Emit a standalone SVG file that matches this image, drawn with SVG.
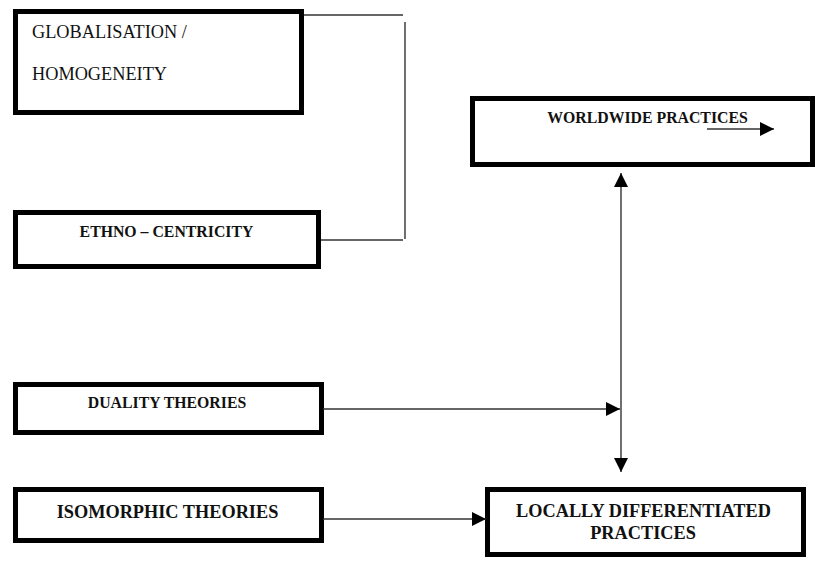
<svg xmlns="http://www.w3.org/2000/svg" width="815" height="585" viewBox="0 0 815 585">
<style>
.box{fill:#fff;stroke:#000;stroke-width:5}
.t{font-family:"Liberation Serif","Times New Roman",serif;fill:#111}
.b{font-weight:bold;text-anchor:middle}
.s{font-size:15.8px}
.l{font-size:18.3px}
.n{font-size:18.3px}
.ln{stroke:#333;stroke-width:1.4;fill:none}
.ah{fill:#000}
</style>
<defs>
<marker id="arr" viewBox="0 0 14 14" refX="14" refY="7" markerWidth="14" markerHeight="14" markerUnits="userSpaceOnUse" orient="auto-start-reverse">
<path d="M0,0 L14,7 L0,14 Z" class="ah"/>
</marker>
</defs>
<rect width="815" height="585" fill="#fff"/>
<g id="globalisation">
<rect class="box" x="15.5" y="11.5" width="286" height="101"/>
<text class="t n" x="32" y="38">GLOBALISATION /</text>
<text class="t n" x="32" y="80">HOMOGENEITY</text>
</g>
<g id="ethnocentricity">
<rect class="box" x="15.5" y="212.5" width="303" height="54"/>
<text class="t b s" x="166.5" y="237">ETHNO – CENTRICITY</text>
</g>
<g id="worldwide">
<rect class="box" x="472.5" y="98.5" width="340" height="66"/>
<text class="t b s" x="647.5" y="123">WORLDWIDE PRACTICES</text>
<line class="ln" x1="707" y1="129" x2="774" y2="129" stroke="#000" marker-end="url(#arr)"/>
</g>
<g id="duality">
<rect class="box" x="15.5" y="384.5" width="306" height="48"/>
<text class="t b s" x="167" y="408">DUALITY THEORIES</text>
</g>
<g id="isomorphic">
<rect class="box" x="15.5" y="489.5" width="306" height="51"/>
<text class="t b l" x="167.5" y="518">ISOMORPHIC THEORIES</text>
</g>
<g id="locally">
<rect class="box" x="487.5" y="489.5" width="316" height="65"/>
<text class="t b l" x="643.5" y="517">LOCALLY DIFFERENTIATED</text>
<text class="t b l" x="643" y="539">PRACTICES</text>
</g>
<g id="connectors">
<line class="ln" x1="304" y1="15" x2="403" y2="15"/>
<line class="ln" x1="405" y1="22" x2="405" y2="239"/>
<line class="ln" x1="321" y1="240" x2="403" y2="240"/>
<line class="ln" x1="621" y1="173" x2="621" y2="472" marker-start="url(#arr)" marker-end="url(#arr)"/>
<line class="ln" x1="323" y1="409" x2="620" y2="409" marker-end="url(#arr)"/>
<line class="ln" x1="323" y1="519" x2="486" y2="519" marker-end="url(#arr)"/>
</g>
</svg>
